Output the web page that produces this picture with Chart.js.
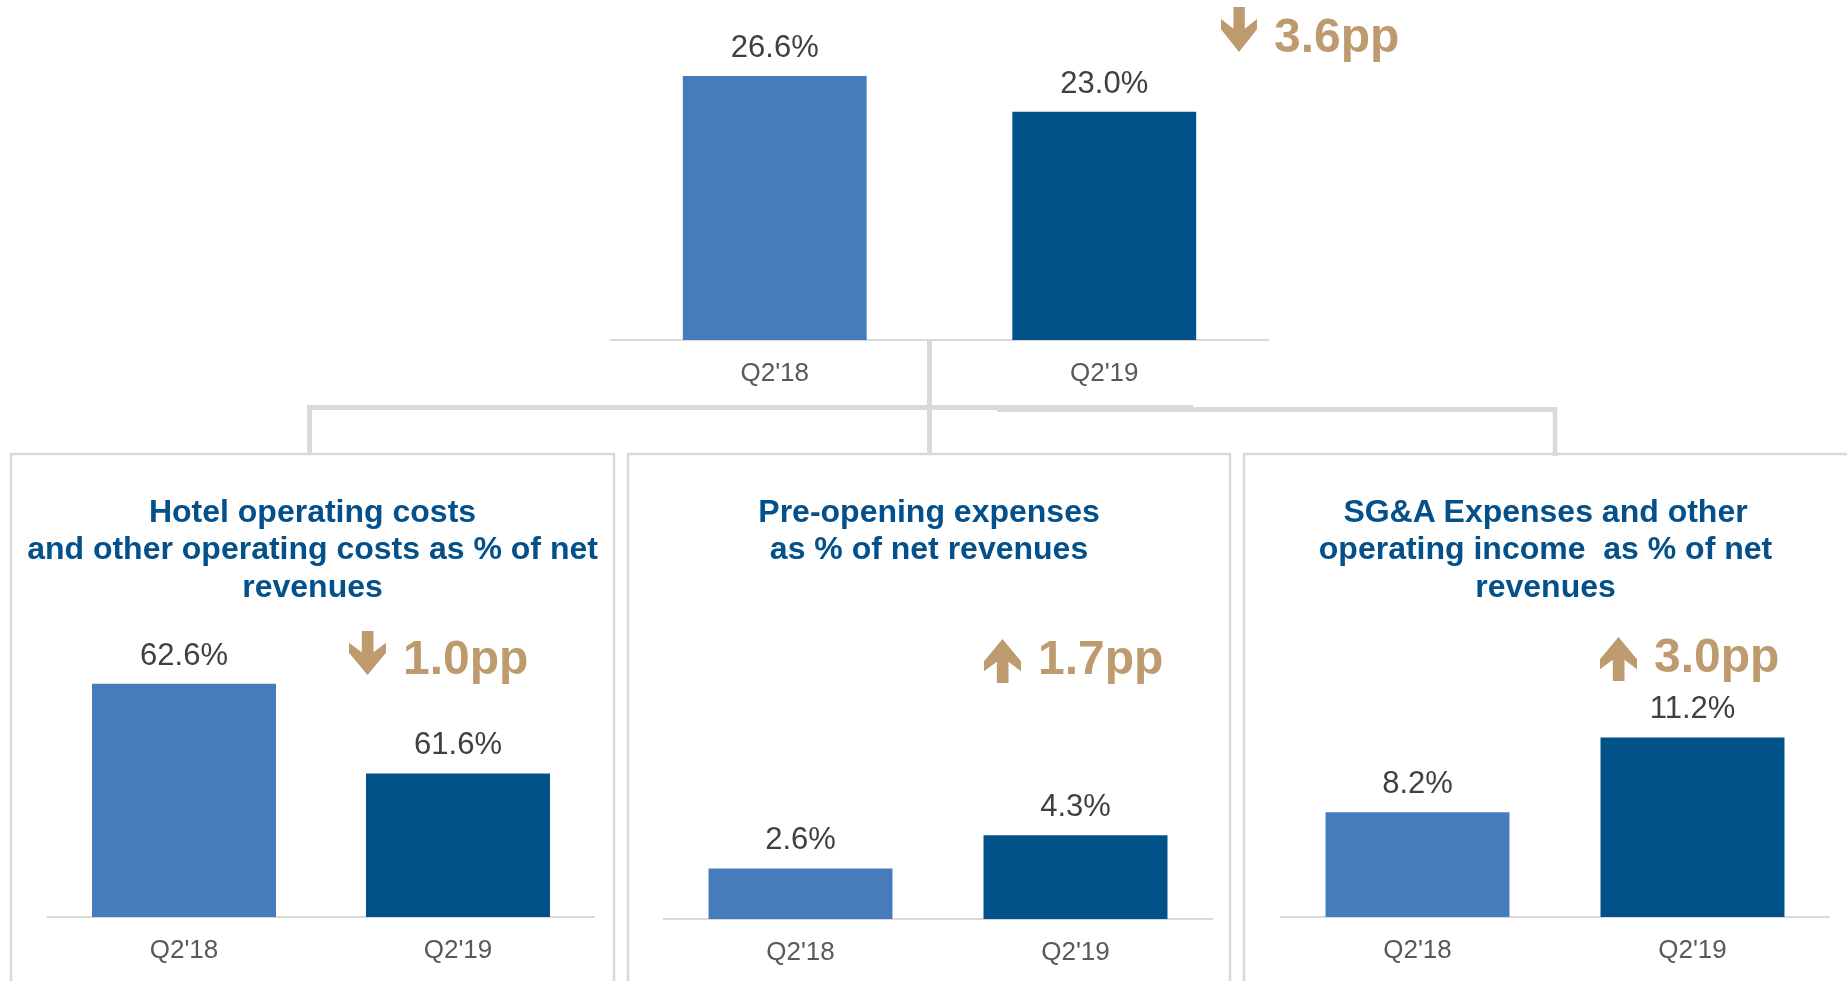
<!DOCTYPE html>
<html>
<head>
<meta charset="utf-8">
<script src="https://cdn.jsdelivr.net/npm/chart.js@4.4.1/dist/chart.umd.min.js"></script>
<style>
  html, body { margin: 0; padding: 0; background: #ffffff; width: 1847px; height: 981px; overflow: hidden; }
  #stage { position: relative; width: 1847px; height: 981px; }
  canvas { position: absolute; }
  svg { position: absolute; left: 0; top: 0; pointer-events: none; }
</style>
</head>
<body>
<div id="stage">
  <canvas id="cTop" style="left:610px;top:0px" width="659" height="400"></canvas>
  <canvas id="cHotel" style="left:47px;top:620px" width="548" height="357"></canvas>
  <canvas id="cPre" style="left:663px;top:620px" width="550" height="359"></canvas>
  <canvas id="cSga" style="left:1280px;top:620px" width="550" height="357"></canvas>
  <svg id="ov" width="1847" height="981" xmlns="http://www.w3.org/2000/svg"></svg>
</div>
<script>
// ---------------- data ----------------
const categories = ["Q2'18", "Q2'19"];
const topMargin = [26.6, 23.0];
const hotelCosts = [62.6, 61.6];
const preOpening = [2.6, 4.3];
const sgaOther = [8.2, 11.2];
const deltaLabels = ["3.6pp", "1.0pp", "1.7pp", "3.0pp"];
const deltaDirections = ["down", "down", "up", "up"];
const panelTitles = [
  ["Hotel operating costs", "and other operating costs as % of net", "revenues"],
  ["Pre-opening expenses", "as % of net revenues"],
  ["SG&A Expenses and other", "operating income  as % of net", "revenues"]
];

// ---------------- style ----------------
const FONT = "'Liberation Sans', Arial, Helvetica, sans-serif";
const LIGHT = '#467CBB';
const DARK = '#02528A';
const TITLE = '#03508A';
const GOLD = '#BE9B6E';
const GRAY = '#D9D9D9';

const valueLabels = {
  id: 'valueLabels',
  afterDatasetsDraw(chart) {
    const ctx = chart.ctx;
    const meta = chart.getDatasetMeta(0);
    const vals = chart.data.datasets[0].data;
    ctx.save();
    ctx.font = '31px ' + FONT;
    ctx.fillStyle = '#404040';
    ctx.textAlign = 'center';
    ctx.textBaseline = 'alphabetic';
    meta.data.forEach((el, i) => {
      ctx.fillText(vals[i].toFixed(1) + '%', el.x, el.y - 19);
    });
    ctx.restore();
  }
};

function makeBar(id, values, yMin, yMax, barPct) {
  return new Chart(document.getElementById(id), {
    type: 'bar',
    data: {
      labels: categories,
      datasets: [{
        data: values,
        backgroundColor: [LIGHT, DARK],
        borderWidth: 0,
        barPercentage: barPct,
        categoryPercentage: 1
      }]
    },
    options: {
      responsive: false,
      animation: false,
      devicePixelRatio: 1,
      layout: { padding: 0 },
      plugins: { legend: { display: false }, tooltip: { enabled: false }, title: { display: false } },
      scales: {
        x: {
          grid: { display: false, drawTicks: false },
          border: { display: true, color: GRAY, width: 2 },
          ticks: { color: '#595959', font: { family: FONT, size: 26 }, padding: 18 },
          afterFit: s => { s.height = 60; }
        },
        y: { display: false, min: yMin, max: yMax }
      }
    },
    plugins: [valueLabels]
  });
}

makeBar('cTop', topMargin, 0, 34.26, 0.558);
makeBar('cHotel', hotelCosts, 60, 63.31, 0.6715);
makeBar('cPre', preOpening, 0, 15.37, 0.669);
makeBar('cSga', sgaOther, 4, 15.91, 0.669);

// ---------------- overlay: connectors, panels, titles, deltas ----------------
const NS = 'http://www.w3.org/2000/svg';
const svg = document.getElementById('ov');
function el(tag, attrs, text) {
  const e = document.createElementNS(NS, tag);
  for (const k in attrs) e.setAttribute(k, attrs[k]);
  if (text !== undefined) e.textContent = text;
  svg.appendChild(e);
  return e;
}
// panels
const panelBoxes = [[11, 614], [628, 1230], [1244, 1860]];
panelBoxes.forEach(([x1, x2]) => {
  el('rect', { x: x1, y: 454, width: x2 - x1, height: 700, fill: 'none', stroke: GRAY, 'stroke-width': 2.5 });
});
// connectors
const lineW = 5;
el('line', { x1: 307, y1: 407.5, x2: 1193, y2: 407.5, stroke: GRAY, 'stroke-width': lineW });
el('line', { x1: 997, y1: 409.5, x2: 1557, y2: 409.5, stroke: GRAY, 'stroke-width': lineW });
el('line', { x1: 309.5, y1: 405, x2: 309.5, y2: 455, stroke: GRAY, 'stroke-width': lineW });
el('line', { x1: 1555, y1: 407, x2: 1555, y2: 456, stroke: GRAY, 'stroke-width': 4.5 });
el('line', { x1: 929.5, y1: 340, x2: 929.5, y2: 454, stroke: GRAY, 'stroke-width': lineW });

// titles
const titleCenters = [312.5, 929, 1545.5];
const titleBaselines = [521.7, 559.4, 597];
panelTitles.forEach((lines, p) => {
  lines.forEach((t, i) => {
    el('text', {
      x: titleCenters[p], y: titleBaselines[i], 'text-anchor': 'middle',
      'font-family': FONT, 'font-size': 32, 'font-weight': 'bold', fill: TITLE,
      style: 'white-space:pre'
    }, t);
  });
});

// delta annotations
const deltaLayout = [
  { ax: 1221, ay: 7, aw: 36, ah: 45, tx: 1274, ty: 52 },
  { ax: 349, ay: 631, aw: 37, ah: 44, tx: 403, ty: 674 },
  { ax: 984, ay: 639, aw: 37, ah: 44, tx: 1038, ty: 674 },
  { ax: 1600, ay: 637, aw: 37, ah: 44, tx: 1654, ty: 672 }
];
const upShape = [[0.5, 0], [1, 0.507], [1, 0.734], [0.662, 0.516], [0.662, 1], [0.346, 1], [0.346, 0.516], [0, 0.734], [0, 0.507]];
deltaLabels.forEach((lab, i) => {
  const L = deltaLayout[i];
  const pts = upShape.map(([u, v]) => {
    const vv = deltaDirections[i] === 'down' ? 1 - v : v;
    return (L.ax + u * L.aw).toFixed(1) + ',' + (L.ay + vv * L.ah).toFixed(1);
  }).join(' ');
  el('polygon', { points: pts, fill: GOLD });
  el('text', { x: L.tx, y: L.ty, 'font-family': FONT, 'font-size': 48, 'font-weight': 'bold', fill: GOLD }, lab);
});
</script>
</body>
</html>
